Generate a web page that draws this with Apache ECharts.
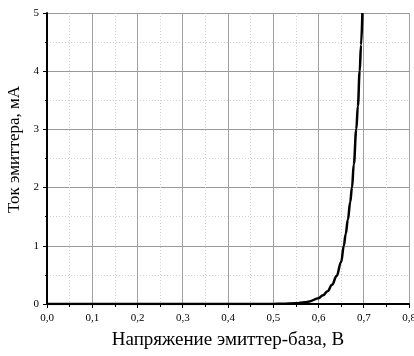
<!DOCTYPE html>
<html><head><meta charset="utf-8">
<script src="https://cdn.jsdelivr.net/npm/echarts@6/dist/echarts.min.js"></script>
<style>html,body{margin:0;padding:0;background:#fff}#c{width:414px;height:356px}</style>
</head><body><div id="c"></div>
<script>
const voltage = [0.0, 0.1, 0.2, 0.3, 0.4, 0.45, 0.5, 0.52, 0.55, 0.57, 0.58, 0.6, 0.61, 0.62, 0.63, 0.64, 0.65, 0.656, 0.66, 0.665, 0.67, 0.674, 0.678, 0.6835, 0.687, 0.691, 0.694, 0.697];
const current = [0.0, 0.0, 0.0, 0.0, 0.0, 0.0005, 0.002, 0.004, 0.012, 0.03, 0.045, 0.1, 0.15, 0.22, 0.33, 0.48, 0.72, 1.0, 1.2, 1.45, 1.75, 2.0, 2.4, 3.0, 3.4, 4.0, 4.45, 5.0];
const xTicks = [0.0, 0.1, 0.2, 0.3, 0.4, 0.5, 0.6, 0.7, 0.8];
const yTicks = [0, 1, 2, 3, 4, 5];
const xTitle = 'Напряжение эмиттер-база, В';
const yTitle = 'Ток эмиттера, мА';

const font = 'Liberation Serif';
const chart = echarts.init(document.getElementById('c'), null, {renderer: 'canvas'});
chart.setOption({
  animation: false,
  backgroundColor: '#fff',
  grid: {left: 47, top: 13, right: 5, bottom: 52, containLabel: false, outerBoundsMode: 'none'},
  xAxis: {
    type: 'value', min: xTicks[0], max: xTicks[xTicks.length - 1], interval: 0.1,
    name: xTitle, nameLocation: 'middle', nameGap: 27,
    nameTextStyle: {fontFamily: font, fontSize: 19, color: '#000'},
    axisLine: {show: true, onZero: false, lineStyle: {color: '#000', width: 2}},
    axisTick: {show: true, length: 4, lineStyle: {color: '#000', width: 1}},
    minorTick: {show: true, splitNumber: 2, length: 3, lineStyle: {color: '#000', width: 1}},
    axisLabel: {fontFamily: font, fontSize: 11, color: '#000', margin: 9,
      formatter: v => v.toFixed(1).replace('.', ',')},
    splitLine: {show: true, lineStyle: {color: '#a0a0a0', width: 1}},
    minorSplitLine: {show: true, lineStyle: {color: '#d0d0d0', width: 1, type: [1, 2]}}
  },
  yAxis: {
    type: 'value', min: yTicks[0], max: yTicks[yTicks.length - 1], interval: 1,
    name: yTitle, nameLocation: 'middle', nameGap: 20,
    nameTextStyle: {fontFamily: font, fontSize: 17, color: '#000', padding: [0, 0, 0, 18]},
    axisLine: {show: true, lineStyle: {color: '#000', width: 2}},
    axisTick: {show: true, length: 4, lineStyle: {color: '#000', width: 1}},
    minorTick: {show: true, splitNumber: 2, length: 2, lineStyle: {color: '#000', width: 1}},
    axisLabel: {fontFamily: font, fontSize: 11, color: '#000', margin: 8},
    splitLine: {show: true, lineStyle: {color: '#999', width: 1}},
    minorSplitLine: {show: true, lineStyle: {color: '#d0d0d0', width: 1, type: [1, 2]}}
  },
  series: [{
    type: 'line', data: voltage.map((v, i) => [v, current[i]]),
    smooth: 0.4, smoothMonotone: 'x', symbol: 'none', clip: true,
    lineStyle: {color: '#000', width: 2.5}
  }]
});
</script></body></html>
